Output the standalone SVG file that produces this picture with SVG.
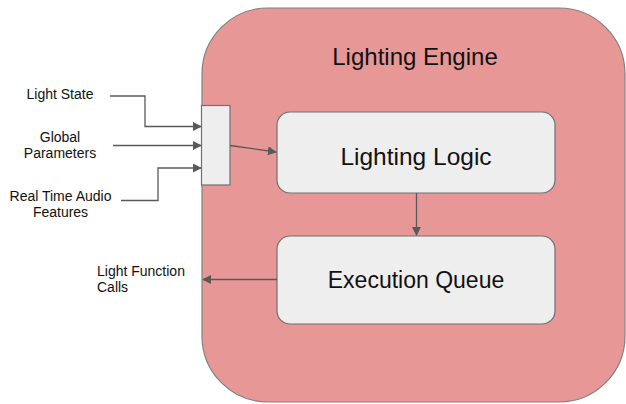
<svg xmlns="http://www.w3.org/2000/svg" width="626" height="404" viewBox="0 0 626 404">
  <style>
    .lbl { font-family: "Liberation Sans", Arial, sans-serif; font-size: 14px; fill: #111; }
    .big { font-family: "Liberation Sans", Arial, sans-serif; font-size: 24px; fill: #111; text-anchor: middle; }
    .box { fill: #eeeeee; stroke: #707070; stroke-width: 1.2; }
    .wire { fill: none; stroke: #595959; stroke-width: 1.3; }
  </style>
  <defs>
    <marker id="arrow" viewBox="0 0 10 10" refX="9" refY="5" markerWidth="9" markerHeight="9" markerUnits="userSpaceOnUse" orient="auto">
      <path d="M0,0 L10,5 L0,10 z" fill="#595959"/>
    </marker>
  </defs>
  <rect width="626" height="404" fill="#ffffff"/>

  <g id="lighting-engine">
    <rect x="202" y="8" width="423" height="394" rx="66" ry="66" fill="#e89797" stroke="#808080" stroke-width="1.2"/>
    <text class="big" x="415" y="65">Lighting Engine</text>
  </g>

  <g id="input-port">
    <rect class="box" x="201.5" y="105.5" width="28.5" height="79.5"/>
  </g>

  <g id="lighting-logic">
    <rect class="box" x="277" y="112" width="278" height="81" rx="13"/>
    <text class="big" x="416" y="165" style="font-size:24.5px">Lighting Logic</text>
  </g>

  <g id="execution-queue">
    <rect class="box" x="277" y="236" width="278" height="88" rx="13"/>
    <text class="big" x="416" y="288" style="font-size:23px">Execution Queue</text>
  </g>

  <g id="light-state">
    <text class="lbl" x="60" y="99" text-anchor="middle">Light State</text>
  </g>
  <g id="global-parameters">
    <text class="lbl" x="60" y="142" text-anchor="middle">Global</text>
    <text class="lbl" x="60" y="158" text-anchor="middle">Parameters</text>
  </g>
  <g id="audio-features">
    <text class="lbl" x="60.5" y="201" text-anchor="middle">Real Time Audio</text>
    <text class="lbl" x="60.5" y="217" text-anchor="middle">Features</text>
  </g>
  <g id="light-function-calls">
    <text class="lbl" x="97" y="276">Light Function</text>
    <text class="lbl" x="97" y="292">Calls</text>
  </g>

  <g id="connectors">
    <path class="wire" d="M110,96 H145 V126.5 H201" marker-end="url(#arrow)"/>
    <path class="wire" d="M113,145.5 H201" marker-end="url(#arrow)"/>
    <path class="wire" d="M121,200.5 H158 V168 H201" marker-end="url(#arrow)"/>
    <path class="wire" d="M230,145.5 L276,152" marker-end="url(#arrow)"/>
    <path class="wire" d="M416.5,193 V235" marker-end="url(#arrow)"/>
    <path class="wire" d="M277,279.5 H203" marker-end="url(#arrow)"/>
  </g>
</svg>
